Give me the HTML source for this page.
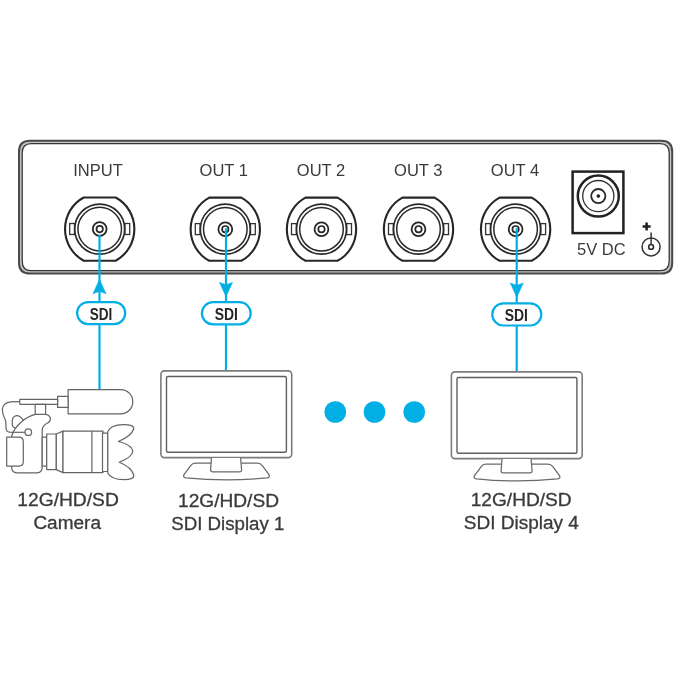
<!DOCTYPE html>
<html>
<head>
<meta charset="utf-8">
<style>
html,body{margin:0;padding:0;background:#fff;}
body{width:675px;height:675px;overflow:hidden;}
svg{display:block;will-change:transform;}
text{font-family:"Liberation Sans",sans-serif;}
</style>
</head>
<body>
<svg width="675" height="675" viewBox="0 0 675 675">
<defs>
  <g id="bnc">
    <path d="M -16 -31.6 L 16 -31.6 A 34.6 35.6 0 0 1 16 31.6 L -16 31.6 A 34.6 35.6 0 0 1 -16 -31.6 Z" fill="#fff" stroke="#262626" stroke-width="2.1"/>
    <rect x="-30" y="-5.6" width="4.8" height="11" fill="#fff" stroke="#333" stroke-width="1.3"/>
    <rect x="25.2" y="-5.6" width="4.8" height="11" fill="#fff" stroke="#333" stroke-width="1.3"/>
    <circle r="25" fill="#fff" stroke="#2a2a2a" stroke-width="1.7"/>
    <circle r="21.8" fill="none" stroke="#2a2a2a" stroke-width="1.5"/>
    <circle r="6.9" fill="none" stroke="#262626" stroke-width="1.8"/>
    <circle r="3.2" fill="none" stroke="#262626" stroke-width="1.7"/>
  </g>
  <g id="monitor">
    <rect x="160.9" y="370.9" width="130.8" height="86.7" rx="3.5" fill="#fff" stroke="#7c7c7c" stroke-width="1.6"/>
    <rect x="166.5" y="376.5" width="119.9" height="75.7" rx="1.5" fill="#fff" stroke="#5e5e5e" stroke-width="1.4"/>
    <path d="M 195.2 463.2 L 257.4 463.2 Q 260.5 463.2 262.3 465.6 L 268.8 474.4 Q 270.6 477.3 267 477.8 Q 226.5 482 186 477.8 Q 182.4 477.3 184.2 474.4 L 190.7 465.6 Q 192.5 463.2 195.2 463.2 Z" fill="#fff" stroke="#6a6a6a" stroke-width="1.25"/>
    <path d="M 211.5 458 L 210.6 470 Q 210.6 471.8 212.6 471.8 L 239.6 471.8 Q 241.6 471.8 241.6 470 L 240.6 458" fill="#fff" stroke="#6a6a6a" stroke-width="1.25"/>
  </g>
  <g id="arrowUp"><path d="M 0 -1 L 6.5 13.2 L 0 10.8 L -6.5 13.2 Z" fill="#02afe4" stroke="#02afe4" stroke-width="0.6" stroke-linejoin="round"/></g>
</defs>

<!-- Device box -->
<path fill-rule="evenodd" fill="#c4c4c4" d="M 30 140.7 L 661.5 140.7 Q 672.2 140.7 672.2 151.5 L 672.2 263 Q 672.2 273.6 661.5 273.6 L 30 273.6 Q 19 273.6 19 263 L 19 151.5 Q 19 140.7 30 140.7 Z M 31 143.6 L 660 143.6 Q 669.2 143.6 669.2 153 L 669.2 261 Q 669.2 270.7 660 270.7 L 31 270.7 Q 22.2 270.7 22.2 261 L 22.2 153 Q 22.2 143.6 31 143.6 Z"/>
<path d="M 30 140.7 L 661.5 140.7 Q 672.2 140.7 672.2 151.5 L 672.2 263 Q 672.2 273.6 661.5 273.6 L 30 273.6 Q 19 273.6 19 263 L 19 151.5 Q 19 140.7 30 140.7 Z" fill="none" stroke="#4a4a4a" stroke-width="2"/>
<path d="M 31 143.6 L 660 143.6 Q 669.2 143.6 669.2 153 L 669.2 261 Q 669.2 270.7 660 270.7 L 31 270.7 Q 22.2 270.7 22.2 261 L 22.2 153 Q 22.2 143.6 31 143.6 Z" fill="#fff" stroke="#363636" stroke-width="1.3"/>

<!-- Labels -->
<g fill="#3a3a3a" font-size="16.5">
  <text x="98" y="175.7" text-anchor="middle">INPUT</text>
  <text x="223.7" y="175.7" text-anchor="middle">OUT 1</text>
  <text x="321" y="175.7" text-anchor="middle">OUT 2</text>
  <text x="418.2" y="175.7" text-anchor="middle">OUT 3</text>
  <text x="515" y="175.7" text-anchor="middle">OUT 4</text>
  <text x="601.3" y="254.5" text-anchor="middle">5V DC</text>
</g>

<!-- BNC connectors -->
<use href="#bnc" x="99.7" y="229.1"/>
<use href="#bnc" x="225.3" y="229.2"/>
<use href="#bnc" x="321.5" y="229.2"/>
<use href="#bnc" x="418.5" y="229.2"/>
<use href="#bnc" x="515.6" y="229.2"/>

<!-- DC jack -->
<rect x="572.6" y="171.6" width="50.8" height="61.5" fill="#fff" stroke="#222" stroke-width="2.5"/>
<circle cx="598.3" cy="196.1" r="20.5" fill="none" stroke="#222" stroke-width="2.5"/>
<circle cx="598.3" cy="196.1" r="15.6" fill="none" stroke="#333" stroke-width="1.3"/>
<circle cx="598.3" cy="196.1" r="7.1" fill="none" stroke="#2a2a2a" stroke-width="1.8"/>
<circle cx="598.3" cy="196.1" r="1.8" fill="#222"/>

<!-- power symbol -->
<path d="M 642.6 226.4 L 650.6 226.4 M 646.6 222.4 L 646.6 230.4" stroke="#222" stroke-width="2.5"/>
<circle cx="651.1" cy="246.9" r="9" fill="none" stroke="#333" stroke-width="1.5"/>
<circle cx="651.1" cy="246.9" r="2.4" fill="none" stroke="#2a2a2a" stroke-width="1.6"/>
<path d="M 651.1 232.4 L 651.1 244.5" stroke="#333" stroke-width="1.5"/>

<!-- blue lines -->
<g stroke="#02afe4" stroke-width="2.2" fill="none" stroke-linecap="round">
  <path d="M 99.5 235.5 L 99.5 390"/>
  <path d="M 226 229 L 226 371"/>
  <path d="M 516.7 229 L 516.7 372"/>
</g>
<use href="#arrowUp" transform="translate(99.5 280.5)"/>
<use href="#arrowUp" transform="translate(226 295.6) rotate(180)"/>
<use href="#arrowUp" transform="translate(516.8 296.2) rotate(180)"/>

<!-- SDI pills -->
<g fill="#fff" stroke="#02afe4" stroke-width="2.2">
  <rect x="77.1" y="302.1" width="48.1" height="22" rx="11"/>
  <rect x="201.9" y="302.2" width="48.8" height="22.2" rx="11.1"/>
  <rect x="492.3" y="303.3" width="49" height="22.2" rx="11.1"/>
</g>
<g fill="#262626" font-size="16" font-weight="bold">
  <text x="89.7" y="319.6" textLength="22.6" lengthAdjust="spacingAndGlyphs">SDI</text>
  <text x="214.7" y="319.6" textLength="23.2" lengthAdjust="spacingAndGlyphs">SDI</text>
  <text x="504.7" y="320.7" textLength="23.2" lengthAdjust="spacingAndGlyphs">SDI</text>
</g>

<!-- dots -->
<g fill="#02afe4">
  <circle cx="335.3" cy="412" r="10.8"/>
  <circle cx="374.5" cy="412" r="10.8"/>
  <circle cx="414.2" cy="412" r="10.8"/>
</g>

<!-- monitors -->
<use href="#monitor"/>
<use href="#monitor" transform="translate(290.5 1)"/>

<!-- camera -->
<g fill="#fff" stroke="#646464" stroke-width="1.2" stroke-linejoin="round">
  <!-- mic -->
  <path d="M 68.1 389.6 L 120.7 389.6 A 12.1 12.1 0 0 1 120.7 413.8 L 68.1 413.8 Z"/>
  <rect x="57.6" y="396.3" width="10.5" height="11.1"/>
  <rect x="19.8" y="399.3" width="37.8" height="5"/>
  <!-- strap loop -->
  <path d="M 19.5 401.6 L 11 401.8 Q 3 402.5 2.3 409.5 Q 2.5 414 4.5 418 Q 6 421 6 424 L 6 428.5 Q 6.5 432.3 10.5 432.3" fill="none"/>
  <!-- body -->
  <path d="M 35.2 414.4 L 45.6 414.4 Q 49 414.8 50.3 417.5 Q 51 421 47.5 423 Q 42.5 425.5 42.2 430 L 42.2 467 Q 42.2 472.8 37 472.8 L 17 472.8 Q 11.7 472.8 11.7 467 L 11.7 436 Q 14 428 21.7 421.7 Q 27.5 416.5 35.2 414.4 Z"/>
  <!-- inner small loop -->
  <path d="M 23.3 420.3 Q 20 415.5 16.5 415.7 Q 12.3 416.5 12.3 421 L 12.3 424.5 Q 12.5 427.8 15.5 427.6" fill="none"/>
  <rect x="35.2" y="404.3" width="10.4" height="10.1"/>
  <!-- grip -->
  <path d="M 6.7 437.2 L 19 437.2 Q 23.3 437.2 23.3 442 L 23.3 461.5 Q 23.3 466.1 19 466.1 L 6.7 466.1 Z"/>
  <!-- strap line + ring -->
  <path d="M 10.5 432.3 L 25 432.3" fill="none"/>
  <circle cx="28.3" cy="432.2" r="3.3"/>
  <!-- lens -->
  <rect x="42.2" y="437.2" width="4.5" height="28.9"/>
  <rect x="46.7" y="434" width="9.6" height="35.6"/>
  <path d="M 56.3 434 L 63 431.1 L 63 472.6 L 56.3 469.6 Z"/>
  <rect x="63" y="431.1" width="40" height="41.5"/>
  <path d="M 91.9 431.1 L 91.9 472.6" fill="none"/>
  <rect x="102.5" y="433.2" width="5.3" height="38.3"/>
  <!-- hood -->
  <path d="M 107.8 431.6 Q 110.5 424.8 123 424.6 Q 134.5 424.5 133.7 429 Q 131.5 436 118.4 441.5 Q 132.5 445 132.7 451.5 Q 132.5 457 119.2 462.2 Q 131.5 467 133.7 475 Q 134.5 479.7 124 479.7 Q 111 479.5 107.8 473 Z"/>
</g>

<!-- bottom labels -->
<g fill="#3a3a3a" stroke="#3a3a3a" stroke-width="0.3" font-size="18">
  <text x="17.3" y="505.8" textLength="101.5" lengthAdjust="spacingAndGlyphs">12G/HD/SD</text>
  <text x="33.4" y="528.6" textLength="67.6" lengthAdjust="spacingAndGlyphs">Camera</text>
  <text x="178" y="507" textLength="101" lengthAdjust="spacingAndGlyphs">12G/HD/SD</text>
  <text x="171.2" y="529.5" textLength="113.2" lengthAdjust="spacingAndGlyphs">SDI Display 1</text>
  <text x="470.7" y="505.5" textLength="101" lengthAdjust="spacingAndGlyphs">12G/HD/SD</text>
  <text x="463.8" y="528.6" textLength="115" lengthAdjust="spacingAndGlyphs">SDI Display 4</text>
</g>
</svg>
</body>
</html>
